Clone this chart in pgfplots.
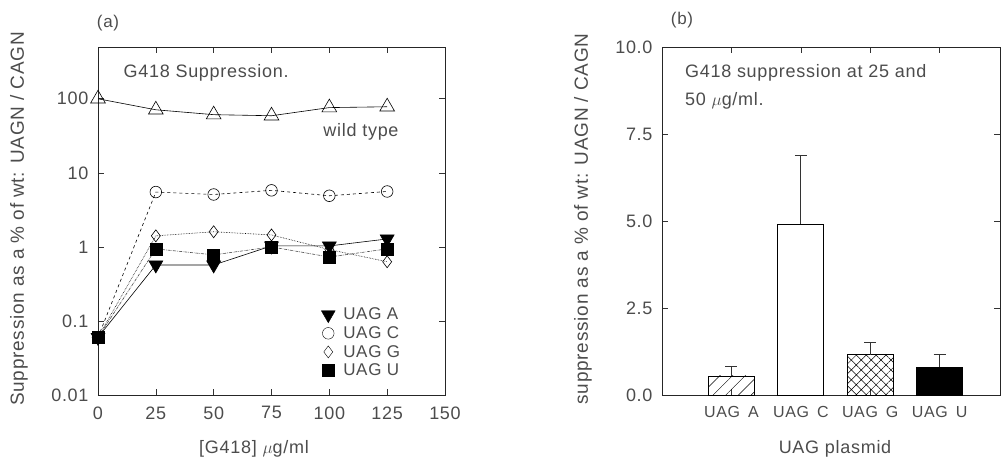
\documentclass[border=0pt]{standalone}
\usepackage{fontspec}
\setmainfont{Liberation Sans}[LetterSpace=4]
\usepackage{pgfplots}
\pgfplotsset{compat=1.18}
\usetikzlibrary{patterns.meta}
\definecolor{txt}{gray}{0.3}
\begin{document}
\begin{tikzpicture}
\path[use as bounding box] (0pt,0pt) rectangle (1002pt,459pt);
\pgfplotsset{
  every axis/.append style={
    scale only axis, anchor=south west,
    tick align=inside, major tick length=6pt,
    axis line style={line width=0.8pt, black!85},
    every tick/.style={black!80, line width=0.6pt},
    tick label style={font=\fontsize{18}{19}\selectfont, text=txt},
    /pgf/number format/assume math mode=true,
    xticklabel style={yshift=-8pt},
    yticklabel style={xshift=-6pt},
  }
}
% ---------------- panel (a) ----------------
\begin{axis}[
  at={(98pt,64pt)}, width=347pt, height=348pt,
  xmin=0, xmax=150, ymode=log, ymin=0.01, ymax=500,
  xtick={0,25,50,75,100,125,150},
  ytick={0.01,0.1,1,10,100}, yticklabels={0.01,0.1,1,10,100},
  minor ytick={}, yminorticks=false,
  legend style={at={(0.64,0.258)}, anchor=north west, draw=none, fill=none,
    font=\fontsize{17}{18}\selectfont, text=txt, row sep=0pt,
    legend cell align=left, inner sep=0pt, nodes={inner ysep=0pt}},
  legend image code/.code={\draw[#1] plot coordinates {(0pt,0pt)}; \path[draw=none, fill=none] (-8pt,-9.3pt) rectangle (13pt,9.3pt);},
]
% wild type
\addplot[black, line width=0.6pt, mark=triangle, mark size=8.5pt, mark options={fill=white, solid}, forget plot]
  coordinates {(0,100) (25,71) (50,61) (75,59) (100,76) (125,78)};
% UAG C
\addplot[black, line width=0.6pt, dashed, mark=o, mark size=5.8pt, mark options={fill=white, solid}, forget plot]
  coordinates {(0,0.06) (25,5.5) (50,5.1) (75,5.8) (100,4.9) (125,5.6)};
% UAG G
\addplot[black, line width=0.6pt, densely dotted, mark=diamond, mark size=6pt, mark options={fill=white, solid}, forget plot]
  coordinates {(0,0.06) (25,1.41) (50,1.6) (75,1.45) (100,0.92) (125,0.63)};
% UAG U
\addplot[black!70, line width=0.6pt, densely dashdotted, mark=square*, mark size=6pt, mark options={fill=black, draw=black, solid}, forget plot]
  coordinates {(0,0.06) (25,0.94) (50,0.78) (75,1.0) (100,0.73) (125,0.94)};
% UAG A
\addplot[black, line width=0.6pt, mark=triangle*, mark size=8pt, mark options={fill=black, solid, rotate=180}, forget plot]
  coordinates {(0,0.06) (25,0.57) (50,0.57) (75,1.03) (100,1.03) (125,1.28)};
\addlegendimage{only marks, mark=triangle*, mark size=8pt, mark options={fill=black, rotate=180}}
\addlegendentry{UAG A}
\addlegendimage{only marks, mark=o, mark size=5.8pt, mark options={fill=white}}
\addlegendentry{UAG C}
\addlegendimage{only marks, mark=diamond, mark size=6pt, mark options={fill=white}}
\addlegendentry{UAG G}
\addlegendimage{only marks, mark=square*, mark size=6pt, mark options={fill=black}}
\addlegendentry{UAG U}
\node[anchor=west, text=txt, font=\fontsize{18}{20}\selectfont, inner sep=0pt] at (axis cs:11,224) {G418 Suppression.};
\node[anchor=east, text=txt, font=\fontsize{18}{20}\selectfont, inner sep=0pt] at (axis cs:130,36) {wild type};
\end{axis}
% ---------------- panel (b) ----------------
\begin{axis}[
  at={(662pt,64pt)}, width=338pt, height=348pt,
  xmin=0, xmax=4.87, ymin=0, ymax=10,
  xtick={1,2,3,4}, xticklabels={UAG\enspace A, UAG\enspace C, UAG\enspace G, UAG\enspace U},
  ytick={0,2.5,5,7.5,10},
  yticklabel style={/pgf/number format/.cd, fixed, fixed zerofill, precision=1},
  xticklabel style={font=\fontsize{16}{17}\selectfont},
]
\addplot[ybar, bar width=46pt, bar shift=0pt, draw=black, line width=0.7pt,
  pattern={Lines[angle=45, distance=9pt, line width=0.5pt]}, pattern color=black,
  error bars/.cd, y dir=plus, y explicit,
  error bar style={line width=0.7pt, black!80}, error mark options={rotate=90, mark size=6pt, line width=0.7pt}]
  coordinates {(1,0.55) +- (0,0.26)};
\addplot[ybar, bar width=46pt, bar shift=0pt, draw=black, line width=0.7pt, fill=white,
  error bars/.cd, y dir=plus, y explicit,
  error bar style={line width=0.7pt, black!80}, error mark options={rotate=90, mark size=6pt, line width=0.7pt}]
  coordinates {(2,4.91) +- (0,1.97)};
\addplot[ybar, bar width=46pt, bar shift=0pt, draw=black, line width=0.7pt,
  pattern={Hatch[angle=45, distance=7pt, line width=0.5pt]}, pattern color=black,
  error bars/.cd, y dir=plus, y explicit,
  error bar style={line width=0.7pt, black!80}, error mark options={rotate=90, mark size=6pt, line width=0.7pt}]
  coordinates {(3,1.16) +- (0,0.34)};
\addplot[ybar, bar width=46pt, bar shift=0pt, draw=black, line width=0.7pt, fill=black,
  error bars/.cd, y dir=plus, y explicit,
  error bar style={line width=0.7pt, black!80}, error mark options={rotate=90, mark size=6pt, line width=0.7pt}]
  coordinates {(4,0.80) +- (0,0.36)};
\node[anchor=west, text=txt, font=\fontsize{18}{20}\selectfont, inner sep=0pt] at (axis cs:0.33,9.26) {G418 suppression at 25 and};
\node[anchor=west, text=txt, font=\fontsize{18}{20}\selectfont, inner sep=0pt] at (axis cs:0.33,8.45) {50 $\mu$g/ml.};
\end{axis}
% ---------------- outer labels ----------------
\node[text=txt, font=\fontsize{17}{18}\selectfont] at (108pt,436pt) {(a)};
\node[text=txt, font=\fontsize{17}{18}\selectfont] at (682pt,439pt) {(b)};
\node[text=txt, font=\fontsize{19}{21}\selectfont, rotate=90] at (19pt,240pt) {Suppression as a \% of wt: UAGN / CAGN};
\node[text=txt, font=\fontsize{19}{21}\selectfont, rotate=90] at (583pt,240pt) {suppression as a \% of wt: UAGN / CAGN};
\node[text=txt, font=\fontsize{18}{20}\selectfont] at (254pt,10pt) {[G418] $\mu$g/ml};
\node[text=txt, font=\fontsize{18}{20}\selectfont] at (835pt,10pt) {UAG plasmid};
\end{tikzpicture}
\end{document}
